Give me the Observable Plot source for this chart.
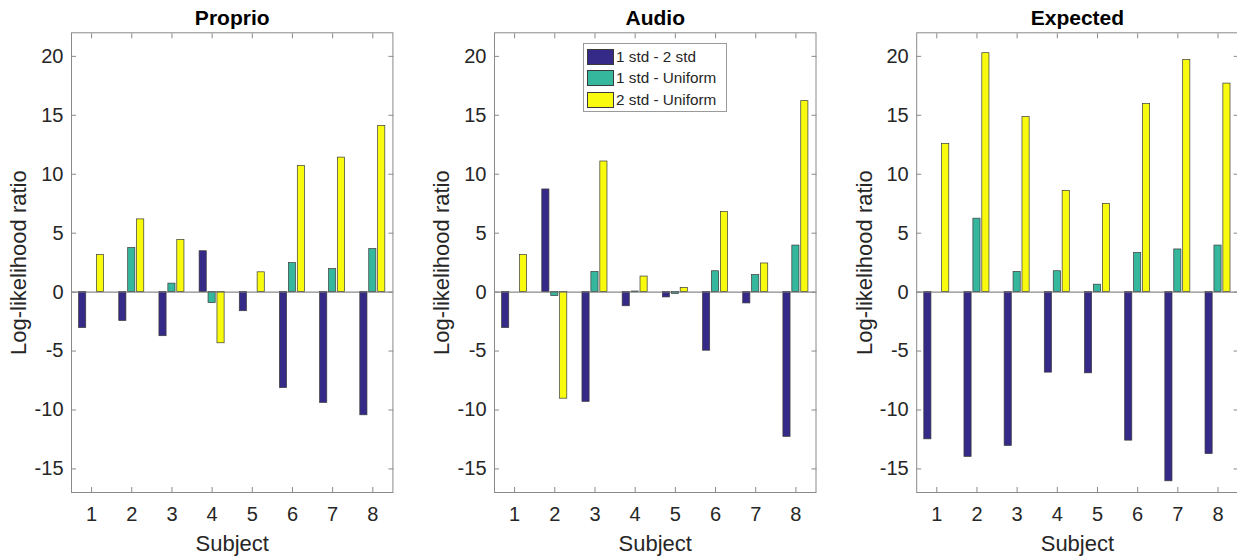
<!DOCTYPE html>
<html><head><meta charset="utf-8">
<script src="https://cdn.jsdelivr.net/npm/d3@7"></script>
<script src="https://cdn.jsdelivr.net/npm/@observablehq/plot@0.6"></script>
<style>
body{margin:0;background:#fff;font-family:"Liberation Sans",Arial,sans-serif;}
#row{display:flex;position:relative;width:1237px;height:556px;overflow:hidden;}
#row svg{flex:none;}
.legend{position:absolute;left:583px;top:43px;width:142px;height:67px;border:1px solid #9a9a9a;background:#fff;font-size:15.3px;color:#262626;}
.legend .item{position:absolute;left:3px;height:16px;display:flex;align-items:center;white-space:nowrap;}
.legend .sw{width:27px;height:16px;border:1px solid #3a3a3a;margin-right:2px;box-sizing:border-box;}
</style></head><body><div id="row"></div>
<script>
// ---- data ----
const subjects = [1, 2, 3, 4, 5, 6, 7, 8];
const seriesNames = ["1 std - 2 std", "1 std - Uniform", "2 std - Uniform"];
const seriesColors = ["#352A87", "#35B79E", "#F9FB0E"];
const panelTitles = ["Proprio", "Audio", "Expected"];
const yTicks = [-15, -10, -5, 0, 5, 10, 15, 20];

const proprio1std2std   = [-3.05, -2.45, -3.74, 3.47, -1.62, -8.14, -9.40, -10.45];
const proprio1stdUnif   = [0.0, 3.74, 0.72, -0.93, 0.0, 2.46, 1.95, 3.65];
const proprio2stdUnif   = [3.14, 6.17, 4.43, -4.34, 1.68, 10.69, 11.41, 14.10];

const audio1std2std     = [-3.05, 8.71, -9.31, -1.20, -0.45, -4.97, -0.96, -12.28];
const audio1stdUnif     = [0.0, -0.33, 1.71, 0.05, -0.15, 1.77, 1.44, 3.95];
const audio2stdUnif     = [3.14, -9.04, 11.08, 1.32, 0.36, 6.80, 2.43, 16.20];

const expected1std2std  = [-12.49, -13.98, -13.05, -6.83, -6.89, -12.60, -16.05, -13.74];
const expected1stdUnif  = [0.0, 6.23, 1.71, 1.77, 0.63, 3.32, 3.62, 3.95];
const expected2stdUnif  = [12.57, 20.27, 14.85, 8.59, 7.49, 15.96, 19.70, 17.69];

const panelSeries = [
  [proprio1std2std, proprio1stdUnif, proprio2stdUnif],
  [audio1std2std, audio1stdUnif, audio2stdUnif],
  [expected1std2std, expected1stdUnif, expected2stdUnif]
];

// ---- layout (MATLAB grouped bar geometry) ----
const step = 0.2222, barW = 0.178;
const layouts = [
  {width: 410, marginLeft: 71, marginRight: 17.6, labelDx: -53},
  {width: 420, marginLeft: 84, marginRight: 14.5, labelDx: -53},
  {width: 408, marginLeft: 86.2, marginRight: 0.4, labelDx: -52}
];
const frameColor = "#8a8a8a";
const textColor = "#262626";

const row = document.getElementById("row");
panelTitles.forEach((title, p) => {
  const rows = [];
  panelSeries[p].forEach((vals, k) => vals.forEach((v, i) => rows.push({subject: subjects[i], k, value: v})));
  const L = layouts[p];
  const chart = Plot.plot({
    width: L.width, height: 556,
    marginLeft: L.marginLeft, marginRight: L.marginRight, marginTop: 32.3, marginBottom: 64,
    x: {domain: [0.5, 8.5]},
    y: {domain: [-17, 22]},
    style: {fontFamily: "'Liberation Sans', Arial, sans-serif", fontSize: "20px", color: textColor, background: "white"},
    marks: [
      Plot.rectY(rows, {
        x1: d => d.subject + (d.k - 1) * step - barW / 2,
        x2: d => d.subject + (d.k - 1) * step + barW / 2,
        y: "value",
        fill: d => seriesColors[d.k],
        stroke: "#3a3a3a", strokeWidth: 0.7
      }),
      Plot.ruleY([0], {stroke: "#6e6e6e", strokeWidth: 1}),
      Plot.axisX({anchor: "bottom", ticks: subjects, tickSize: 0, tickPadding: 14.5, fontSize: 20, label: null, tickFormat: d => d}),
      Plot.axisX({anchor: "bottom", ticks: subjects, tickSize: -5, tickFormat: () => "", label: null, stroke: frameColor}),
      Plot.axisX({anchor: "top", ticks: subjects, tickSize: -5, tickFormat: () => "", label: null, stroke: frameColor}),
      Plot.axisY({anchor: "left", ticks: yTicks, tickSize: 0, tickPadding: 8, fontSize: 20, label: null, tickFormat: d => d < 0 ? "-" + Math.abs(d) : d}),
      Plot.axisY({anchor: "left", ticks: yTicks, tickSize: -5, tickFormat: () => "", label: null, stroke: frameColor}),
      Plot.axisY({anchor: "right", ticks: yTicks, tickSize: -5, tickFormat: () => "", label: null, stroke: frameColor}),
      Plot.frame({stroke: frameColor}),
      Plot.text([title], {frameAnchor: "top", lineAnchor: "middle", dy: -14.8, fontWeight: "bold", fontSize: 21, fill: "black"}),
      Plot.text(["Subject"], {frameAnchor: "bottom", lineAnchor: "middle", dy: 51, fontSize: 22, fill: textColor}),
      Plot.text(["Log-likelihood ratio"], {frameAnchor: "left", textAnchor: "middle", lineAnchor: "middle", dx: L.labelDx, rotate: -90, fontSize: 22, fill: textColor})
    ]
  });
  row.appendChild(chart);
});

// legend (inside the Audio panel, as in the reference)
const lg = document.createElement("div");
lg.className = "legend";
seriesNames.forEach((name, k) => {
  const it = document.createElement("div");
  it.className = "item";
  it.style.top = (5 + k * 21.3) + "px";
  it.innerHTML = `<span class="sw" style="background:${seriesColors[k]}"></span><span>${name}</span>`;
  lg.appendChild(it);
});
row.appendChild(lg);
</script></body></html>
